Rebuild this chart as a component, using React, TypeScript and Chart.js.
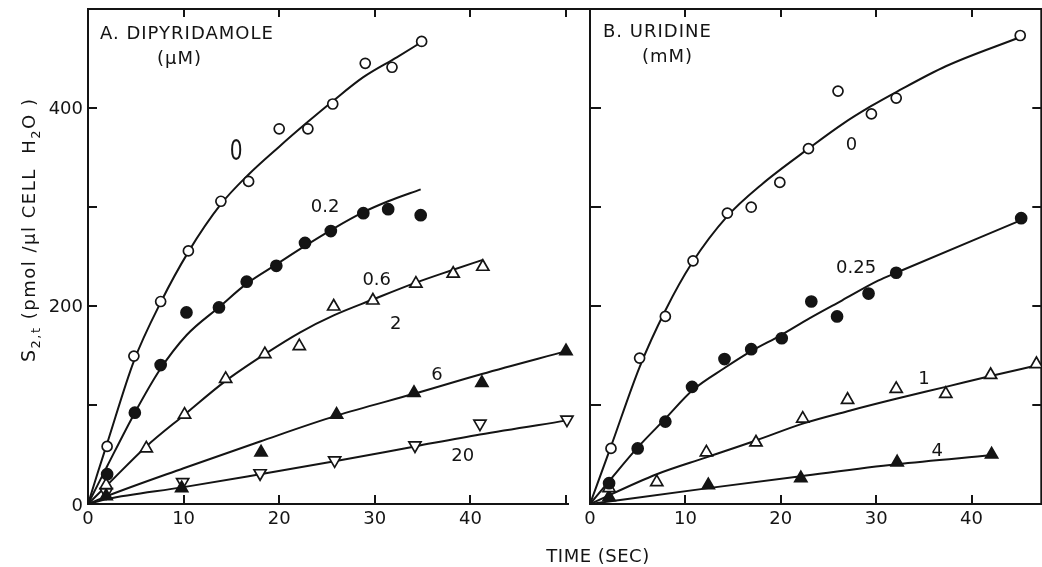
import { useEffect, useRef } from "react";
import { Chart, registerables } from "chart.js";

Chart.register(...registerables);

const FONT = "'DejaVu Sans', 'Liberation Sans', sans-serif";
const INK = "#141414";

// ---------- Panel A: dipyridamole (µM) ----------
const dipy0Time = [2.0, 4.8, 7.6, 10.5, 13.9, 16.8, 20.0, 23.0, 25.6, 29.0, 31.8, 34.9];
const dipy0Value = [58, 149, 204, 255, 305, 325, 378, 378, 403, 444, 440, 466];
const dipy0FitTime = [0, 1, 2, 4.8, 7.6, 10.5, 13.9, 16.8, 20, 23, 25.5, 28.8, 32.3, 35];
const dipy0FitValue = [0, 31, 61, 144, 203, 254, 302, 332, 360, 385, 405, 430, 450, 466];

const dipy02Time = [2.0, 4.9, 7.6, 10.3, 13.7, 16.6, 19.7, 22.7, 25.4, 28.8, 31.4, 34.8];
const dipy02Value = [30, 92, 140, 193, 198, 224, 240, 263, 275, 293, 297, 291];
const dipy02FitTime = [0, 1, 2, 4.9, 7.5, 10.3, 13.8, 16.6, 19.8, 22.7, 25.6, 28.8, 31.4, 34.8];
const dipy02FitValue = [0, 19, 38, 92, 135, 170, 199, 222, 242, 260, 277, 294, 305, 317];

const dipy06Time = [1.9, 6.1, 10.1, 14.4, 18.5, 22.1, 25.7, 29.8, 34.3, 38.2, 41.3];
const dipy06Value = [19, 56, 90, 126, 151, 159, 199, 205, 222, 232, 239];
const dipy06FitTime = [0, 2, 6.1, 10.1, 14.4, 18.5, 22.2, 25.7, 29.8, 34.3, 38.2, 41.3];
const dipy06FitValue = [0, 19, 58, 90, 124, 151, 173, 190, 206, 223, 236, 246];

const dipy6Time = [1.9, 9.8, 18.1, 26.0, 34.1, 41.2, 50.0];
const dipy6Value = [8, 16, 52, 90, 112, 122, 154];
const dipy6FitTime = [0, 2, 10, 18, 26, 34.1, 41.2, 50];
const dipy6FitValue = [0, 8, 36, 63, 89, 111, 131, 154];

const dipy20Time = [1.9, 9.9, 18.0, 25.8, 34.2, 41.0, 50.1];
const dipy20Value = [12, 22, 31, 44, 59, 81, 85];
const dipy20FitTime = [0, 2, 10, 18, 25.8, 34.2, 41, 50];
const dipy20FitValue = [0, 5, 17, 30, 43, 58, 70, 84];

const dipyLabelText = ["0", "0.2", "0.6", "2", "6", "20"];
const dipyLabelTime = [15.5, 24.8, 30.2, 32.2, 36.5, 39.2];
const dipyLabelValue = [357, 301, 227, 183, 132, 50];

// ---------- Panel B: uridine (mM) ----------
const uri0Time = [2.2, 5.2, 7.9, 10.8, 14.4, 16.9, 19.9, 22.9, 26.0, 29.5, 32.1, 45.1];
const uri0Value = [56, 147, 189, 245, 293, 299, 324, 358, 416, 393, 409, 472];
const uri0FitTime = [0, 2.2, 5.2, 7.9, 10.7, 14.4, 18, 22.9, 26.5, 29.5, 32.1, 37.3, 45.0];
const uri0FitValue = [0, 58, 138, 195, 243, 290, 322, 358, 383, 401, 415, 441, 470];

const uri025Time = [2.0, 5.0, 7.9, 10.7, 14.1, 16.9, 20.1, 23.2, 25.9, 29.2, 32.1, 45.2];
const uri025Value = [21, 56, 83, 118, 146, 156, 167, 204, 189, 212, 233, 288];
const uri025FitTime = [0, 2, 5, 7.9, 10.8, 14.1, 16.9, 20, 23, 26.4, 30.2, 32.1, 45.2];
const uri025FitValue = [0, 23, 57, 86, 115, 137, 154, 170, 187, 205, 225, 233, 286];

const uri1Time = [2.0, 7.0, 12.2, 17.4, 22.3, 27.0, 32.1, 37.3, 42.0, 46.8];
const uri1Value = [16, 22, 52, 62, 86, 105, 116, 111, 130, 141];
const uri1FitTime = [0, 7, 12.2, 17.4, 22.3, 27.2, 32.1, 37.3, 42, 47];
const uri1FitValue = [0, 30, 47, 64, 81, 94, 106, 118, 129, 140];

const uri4Time = [2.0, 12.4, 22.1, 32.2, 42.1];
const uri4Value = [7, 19, 26, 42, 50];
const uri4FitTime = [0, 12.4, 22.1, 32.1, 42];
const uri4FitValue = [0, 16, 28, 40, 49];

const uriLabelText = ["0", "0.25", "1", "4"];
const uriLabelTime = [27.4, 27.9, 35.0, 36.4];
const uriLabelValue = [363, 239, 128, 55];

// ---------- axes ----------
const yTickLabels = ["0", "200", "400"];
const yTickLabelValues = [0, 200, 400];
const xLabelled = [0, 10, 20, 30, 40];
const axisTitleX = "TIME (SEC)";

type Marker = { style: string; filled: boolean; inverted?: boolean };
type Series = { t: number[]; v: number[]; ft: number[]; fv: number[]; m: Marker };

const seriesA: Series[] = [
  { t: dipy0Time, v: dipy0Value, ft: dipy0FitTime, fv: dipy0FitValue, m: { style: "circle", filled: false } },
  { t: dipy02Time, v: dipy02Value, ft: dipy02FitTime, fv: dipy02FitValue, m: { style: "circle", filled: true } },
  { t: dipy06Time, v: dipy06Value, ft: dipy06FitTime, fv: dipy06FitValue, m: { style: "triangle", filled: false } },
  { t: dipy6Time, v: dipy6Value, ft: dipy6FitTime, fv: dipy6FitValue, m: { style: "triangle", filled: true } },
  { t: dipy20Time, v: dipy20Value, ft: dipy20FitTime, fv: dipy20FitValue, m: { style: "triangle", filled: false, inverted: true } },
];

const seriesB: Series[] = [
  { t: uri0Time, v: uri0Value, ft: uri0FitTime, fv: uri0FitValue, m: { style: "circle", filled: false } },
  { t: uri025Time, v: uri025Value, ft: uri025FitTime, fv: uri025FitValue, m: { style: "circle", filled: true } },
  { t: uri1Time, v: uri1Value, ft: uri1FitTime, fv: uri1FitValue, m: { style: "triangle", filled: false } },
  { t: uri4Time, v: uri4Value, ft: uri4FitTime, fv: uri4FitValue, m: { style: "triangle", filled: true } },
];

function buildDatasets(series: Series[]) {
  const ds: any[] = [];
  series.forEach((s) => {
    ds.push({
      data: s.ft.map((t, i) => ({ x: t, y: s.fv[i] })),
      showLine: true,
      pointRadius: 0,
      borderColor: INK,
      borderWidth: 2,
      cubicInterpolationMode: "monotone",
      fill: false,
      clip: false,
      order: 2,
    });
    const isCircle = s.m.style === "circle";
    ds.push({
      data: s.t.map((t, i) => ({ x: t, y: s.v[i] })),
      showLine: false,
      pointStyle: s.m.style,
      pointRotation: s.m.inverted ? 180 : 0,
      pointRadius: isCircle ? (s.m.filled ? 5.5 : 5) : 7,
      pointBackgroundColor: s.m.filled ? INK : "#ffffff",
      pointBorderColor: INK,
      pointBorderWidth: 1.7,
      clip: false,
      order: 1,
    });
  });
  return ds;
}

function zeroPadding(s: any) {
  s.paddingTop = 0;
  s.paddingBottom = 0;
  s.paddingLeft = 0;
  s.paddingRight = 0;
}

function textAt(ctx: CanvasRenderingContext2D, text: string, x: number, yc: number, size: number, align: CanvasTextAlign, spacing = 0, sx = 1) {
  ctx.save();
  ctx.font = `${size}px ${FONT}`;
  ctx.fillStyle = INK;
  ctx.textAlign = align;
  ctx.textBaseline = "alphabetic";
  (ctx as any).letterSpacing = `${spacing}px`;
  ctx.translate(x, yc + size * 0.365);
  ctx.scale(sx, 1);
  ctx.fillText(text, 0, 0);
  ctx.restore();
}

type FrameOpts = { leftTick: number; rightTicks: boolean; topExtendRight: number; bottomExtendRight: number; drawRight: boolean };

function framePlugin(o: FrameOpts) {
  return {
    id: "frame",
    beforeDatasetsDraw(chart: any) {
      const { ctx, chartArea: a, scales } = chart;
      const x = scales.x;
      const y = scales.y;
      ctx.save();
      ctx.strokeStyle = INK;
      ctx.lineWidth = 2;
      ctx.lineCap = "square";
      ctx.beginPath();
      ctx.moveTo(a.left, a.bottom);
      ctx.lineTo(a.left, a.top);
      ctx.moveTo(a.left, a.top);
      ctx.lineTo(a.right + o.topExtendRight, a.top);
      ctx.moveTo(a.left, a.bottom);
      ctx.lineTo(a.right + o.bottomExtendRight, a.bottom);
      if (o.drawRight) {
        ctx.moveTo(a.right, a.top);
        ctx.lineTo(a.right, a.bottom);
      }
      ctx.stroke();
      ctx.lineCap = "butt";
      ctx.beginPath();
      y.ticks.forEach((t: any) => {
        if (t.value === 0) return;
        const py = Math.round(y.getPixelForValue(t.value));
        ctx.moveTo(a.left, py);
        ctx.lineTo(a.left + o.leftTick, py);
        if (o.rightTicks) {
          ctx.moveTo(a.right, py);
          ctx.lineTo(a.right - 9, py);
        }
      });
      x.ticks.forEach((t: any) => {
        if (t.value === 0) return;
        const px = Math.round(x.getPixelForValue(t.value));
        ctx.moveTo(px, a.top);
        ctx.lineTo(px, a.top + 8);
        ctx.moveTo(px, a.bottom);
        ctx.lineTo(px, a.bottom - 9);
      });
      ctx.stroke();
      ctx.restore();
    },
  };
}

function labelsPlugin(texts: string[], times: number[], values: number[], extra: (chart: any) => void) {
  return {
    id: "labels",
    afterDraw(chart: any) {
      const { ctx, scales } = chart;
      texts.forEach((txt, i) => {
        const px = scales.x.getPixelForValue(times[i]);
        const py = scales.y.getPixelForValue(values[i]);
        textAt(ctx, txt, px, py, 18, "center");
      });
      extra(chart);
    },
  };
}

function drawYTitle(ctx: CanvasRenderingContext2D) {
  ctx.save();
  ctx.translate(35, 362);
  ctx.rotate(-Math.PI / 2);
  ctx.fillStyle = INK;
  ctx.textAlign = "left";
  ctx.textBaseline = "alphabetic";
  (ctx as any).letterSpacing = "1.5px";
  const parts = [
    { t: "S", size: 19, dy: 0 },
    { t: "2,t", size: 13, dy: 5 },
    { t: " (pmol /µl CELL  H", size: 18, dy: 0 },
    { t: "2", size: 13, dy: 5 },
    { t: "O )", size: 18, dy: 0 },
  ];
  let x = 0;
  for (const p of parts) {
    ctx.font = `${p.size}px ${FONT}`;
    ctx.fillText(p.t, x, p.dy);
    x += ctx.measureText(p.t).width;
  }
  ctx.restore();
}

function makeConfig(series: Series[], xMax: number, padding: any, yAxisWidth: number, plugins: any[]) {
  return {
    type: "scatter",
    data: { datasets: buildDatasets(series) },
    options: {
      responsive: false,
      animation: false,
      events: [],
      layout: { padding },
      plugins: { legend: { display: false }, tooltip: { enabled: false } },
      scales: {
        x: {
          type: "linear",
          min: 0,
          max: xMax,
          grid: { display: false, drawTicks: false },
          border: { display: false },
          ticks: {
            stepSize: 10,
            includeBounds: false,
            padding: 5,
            maxRotation: 0,
            autoSkip: false,
            color: INK,
            font: { family: FONT, size: 18 },
            callback: (v: any) => (xLabelled.includes(Number(v)) ? String(v) : ""),
          },
          afterFit: (s: any) => {
            s.height = 63;
            zeroPadding(s);
          },
        },
        y: {
          type: "linear",
          min: 0,
          max: 498.7,
          grid: { display: false, drawTicks: false },
          border: { display: false },
          ticks: {
            stepSize: 100,
            includeBounds: false,
            autoSkip: false,
            display: false,
          },
          afterFit: (s: any) => {
            s.width = yAxisWidth;
            zeroPadding(s);
          },
        },
      },
    },
    plugins,
  } as any;
}

export default function App() {
  const refA = useRef<HTMLCanvasElement>(null);
  const refB = useRef<HTMLCanvasElement>(null);

  useEffect(() => {
    const cfgA = makeConfig(seriesA, 50, { left: 0, right: 476, top: 9, bottom: 0 }, 88, [
      framePlugin({ leftTick: 9, rightTicks: false, topExtendRight: 24, bottomExtendRight: 2, drawRight: false }),
      labelsPlugin(dipyLabelText.slice(1), dipyLabelTime.slice(1), dipyLabelValue.slice(1), (chart: any) => {
        const { ctx, chartArea: a, scales } = chart;
        yTickLabels.forEach((lab, i) => {
          textAt(ctx, lab, a.left - 5, scales.y.getPixelForValue(yTickLabelValues[i]), 18, "right");
        });
        textAt(ctx, dipyLabelText[0], scales.x.getPixelForValue(dipyLabelTime[0]), scales.y.getPixelForValue(dipyLabelValue[0]), 28, "center", 0, 0.72);
        textAt(ctx, "A. DIPYRIDAMOLE", a.left + 12, a.top + 23, 18, "left", 1);
        textAt(ctx, "(µM)", 179.5, 57, 18, "center", 1);
        drawYTitle(ctx);
        textAt(ctx, axisTitleX, 598, 555, 18, "center", 0.5);
      }),
    ]);
    const cfgB = makeConfig(seriesB, 47.31, { left: 590, right: 7, top: 9, bottom: 0 }, 0, [
      framePlugin({ leftTick: 11, rightTicks: true, topExtendRight: 0, bottomExtendRight: 0, drawRight: true }),
      labelsPlugin(uriLabelText, uriLabelTime, uriLabelValue, (chart: any) => {
        const { ctx, chartArea: a } = chart;
        textAt(ctx, "B. URIDINE", a.left + 13, a.top + 21, 18, "left", 1);
        textAt(ctx, "(mM)", 667.5, 55, 18, "center", 1);
      }),
    ]);
    const a = new Chart(refA.current as HTMLCanvasElement, cfgA);
    const b = new Chart(refB.current as HTMLCanvasElement, cfgB);
    return () => {
      a.destroy();
      b.destroy();
    };
  }, []);

  return (
    <div style={{ position: "fixed", left: 0, top: 0, width: 1042, height: 567, overflow: "hidden", background: "#ffffff" }}>
      <canvas ref={refA} width={1042} height={567} style={{ position: "absolute", left: 0, top: 0 }} />
      <canvas ref={refB} width={1050} height={567} style={{ position: "absolute", left: 0, top: 0 }} />
    </div>
  );
}
